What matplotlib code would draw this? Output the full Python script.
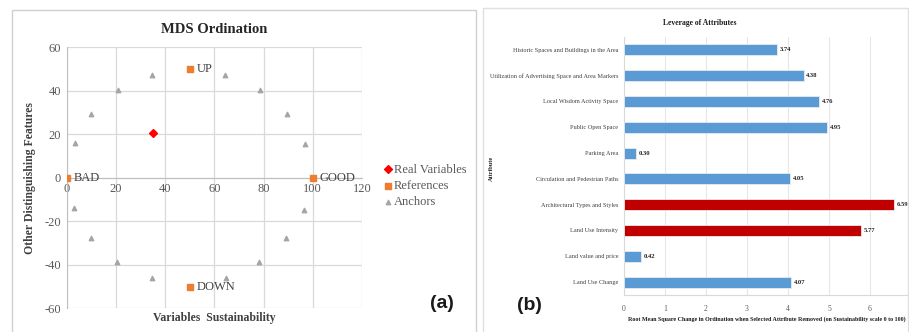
import matplotlib
matplotlib.use("Agg")
import matplotlib.pyplot as plt
from matplotlib.patches import Rectangle

plt.rcParams["axes.unicode_minus"] = False

# ---- MDS ordination data ----
real_x = [35.2]
real_y = [20.6]

ref_names = ["BAD", "GOOD", "UP", "DOWN"]
ref_x = [0, 100, 50, 50]
ref_y = [0, 0, 50, -50]

anchor_x = [34.6, 64.5, 20.7, 78.5, 9.9, 89.6, 3.3, 96.9,
            3.0, 96.6, 9.9, 89.0, 20.6, 78.3, 34.7, 64.9]
anchor_y = [47.2, 47.2, 40.3, 40.3, 29.5, 29.5, 15.9, 15.7,
            -13.9, -14.7, -27.6, -27.6, -38.6, -38.6, -46.0, -46.0]

x_ticks = [0, 20, 40, 60, 80, 100, 120]
y_ticks = [-60, -40, -20, 0, 20, 40, 60]

# ---- Leverage data (top to bottom) ----
attributes = [
    "Historic Spaces and Buildings in the Area",
    "Utilization of Advertising Space and Area Markers",
    "Local Wisdom Activity Space",
    "Public Open Space",
    "Parking Area",
    "Circulation and Pedestrian Paths",
    "Architectural Types and Styles",
    "Land Use Intensity",
    "Land value and price",
    "Land Use Change",
]
leverage = [3.74, 4.38, 4.76, 4.95, 0.30, 4.05, 6.59, 5.77, 0.42, 4.07]
highlighted = ["Architectural Types and Styles", "Land Use Intensity"]
lev_ticks = [0, 1, 2, 3, 4, 5, 6]

SERIF = "Liberation Serif"
SANS = "Liberation Sans"
GRID = "#d9d9d9"
TXT = "#595959"

W, H = 909, 332
fig = plt.figure(figsize=(W / 100, H / 100), dpi=100)


def px_axes(left, top, right, bottom):
    return fig.add_axes([left / W, 1 - bottom / H, (right - left) / W, (bottom - top) / H])


# panel frames
fig.patches.append(Rectangle((12 / W, -0.05), (476 - 12) / W, 1 - 10 / H + 0.05,
                             transform=fig.transFigure, fill=False,
                             edgecolor="#d0d0d0", lw=1.0))
fig.patches.append(Rectangle((483 / W, -0.05), (908 - 483) / W, 1 - 8 / H + 0.05,
                             transform=fig.transFigure, fill=False,
                             edgecolor="#e0e0e0", lw=1.0))

# ================= (a) MDS Ordination =================
ax = px_axes(66.7, 47.3, 361.9, 308.3)
ax.set_xlim(0, 120)
ax.set_ylim(-60, 60)
ax.set_xticks(x_ticks)
ax.set_yticks(y_ticks)
ax.grid(True, color=GRID, lw=0.9)
ax.set_axisbelow(True)
for s in ["top", "right"]:
    ax.spines[s].set_visible(False)
ax.spines["left"].set_color("#bfbfbf")
ax.spines["bottom"].set_color("#bfbfbf")
ax.spines["bottom"].set_position(("data", 0))
ax.tick_params(length=0, labelsize=9, labelcolor=TXT, pad=4)
for lab in ax.get_xticklabels() + ax.get_yticklabels():
    lab.set_family(SERIF)

ax.scatter(anchor_x, anchor_y, marker="^", s=10, color="#a5a5a5", label="Anchors", zorder=3)
ax.scatter(ref_x, ref_y, marker="s", s=18, color="#ed7d31", label="References", zorder=3)
ax.scatter(real_x, real_y, marker="D", s=16, color="#ff0000", label="Real Variables", zorder=4)
for n, x, y in zip(ref_names, ref_x, ref_y):
    ax.annotate(n, (x, y), xytext=(5, 0), textcoords="offset points",
                va="center", ha="left", fontsize=9, family=SERIF, color="#404040")

ax.set_title("MDS Ordination", fontsize=10.5, fontweight="bold", family=SERIF,
             color="#262626", pad=10)
fig.text(214 / W, 1 - 318 / H, "Variables  Sustainability", ha="center", va="center",
         fontsize=8.5, fontweight="bold", family=SERIF, color="#404040")
fig.text(30 / W, 1 - 178 / H, "Other Distinguishing Features", ha="center", va="center",
         rotation=90, fontsize=8.5, fontweight="bold", family=SERIF, color="#404040")

h, l = ax.get_legend_handles_labels()
order = [2, 1, 0]
leg = fig.legend([h[i] for i in order], [l[i] for i in order],
                 loc="center left", bbox_to_anchor=(383 / W, 1 - 186 / H),
                 frameon=False, prop={"family": SERIF, "size": 9},
                 handletextpad=0.05, handlelength=0.8, labelspacing=0.35,
                 borderaxespad=0, borderpad=0)
for t in leg.get_texts():
    t.set_color(TXT)

fig.text(442 / W, 1 - 304 / H, "(a)", ha="center", va="center",
         fontsize=14, fontweight="bold", family=SANS, color="#1a1a1a")

# ================= (b) Leverage of Attributes =================
bx = px_axes(624, 37, 911, 295)
ypos = list(range(len(attributes)))
colors = ["#c00000" if a in highlighted else "#5b9bd5" for a in attributes]
bars = bx.barh(ypos, leverage, height=0.42, color=colors, edgecolor="#eaeaea", lw=0.6, zorder=3)
bx.set_ylim(len(attributes) - 0.5, -0.5)
bx.set_xlim(0, 7)
bx.set_xticks(lev_ticks)
bx.set_yticks(ypos)
bx.set_yticklabels(attributes)
bx.grid(True, axis="x", color="#e6e6e6", lw=0.8)
bx.set_axisbelow(True)
for s in ["top", "right"]:
    bx.spines[s].set_visible(False)
for s in ["left", "bottom"]:
    bx.spines[s].set_color("#d9d9d9")
bx.tick_params(axis="y", length=0, labelsize=4.5, labelcolor="#404040", pad=4)
bx.tick_params(axis="x", length=0, labelsize=5.5, labelcolor=TXT, pad=7)
for lab in bx.get_xticklabels() + bx.get_yticklabels():
    lab.set_family(SERIF)
for b, v in zip(bars, leverage):
    bx.annotate(f"{v:.2f}", (v, b.get_y() + b.get_height() / 2), xytext=(2, 0),
                textcoords="offset points", va="center", ha="left",
                fontsize=4.8, fontweight="bold", family=SERIF, color="#262626")

fig.text(700 / W, 1 - 23 / H, "Leverage of Attributes", ha="center", va="center",
         fontsize=5.5, fontweight="bold", family=SERIF, color="#1a1a1a")
fig.text(628 / W, 1 - 319 / H,
         "Root Mean Square Change in Ordination when Selected Attribute Removed (on Sustainability scale 0 to 100)",
         ha="left", va="center", fontsize=4.3, fontweight="bold", family=SERIF, color="#1a1a1a")
fig.text(491 / W, 1 - 168 / H, "Attribute", ha="center", va="center", rotation=90,
         fontsize=4.5, fontweight="bold", family=SERIF, color="#262626")

fig.text(529 / W, 1 - 305 / H, "(b)", ha="center", va="center",
         fontsize=14, fontweight="bold", family=SANS, color="#1a1a1a")

fig.savefig("out.png", dpi=100)
